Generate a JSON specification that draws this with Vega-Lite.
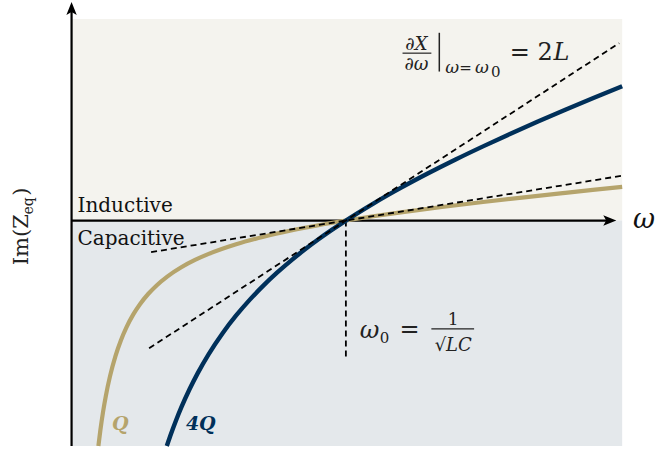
{
  "$schema": "https://vega.github.io/schema/vega-lite/v6.json",
  "width": 655,
  "height": 455,
  "autosize": {"type": "fit", "contains": "padding"},
  "padding": 0,
  "background": "#ffffff",
  "config": {"view": {"stroke": null}},
  "datasets": {
    "regions": [
      {"region": "Inductive", "w0": 0, "w1": 2.0072, "X0": 0, "X1": 9.0625},
      {"region": "Capacitive", "w0": 0, "w1": 2.0072, "X0": -10.134, "X1": 0}
    ],
    "axes": [
      {"w0": 0, "w1": 0, "X0": -10.134, "X1": 9.45},
      {"w0": 0, "w1": 1.955, "X0": 0, "X1": 0}
    ],
    "arrows": [
      {"dir": "up", "w": 0, "X": 9.531},
      {"dir": "right", "w": 1.962, "X": 0}
    ],
    "tangents": [
      {"series": "Q", "w": 0.2899, "X": -1.42},
      {"series": "Q", "w": 2.0036, "X": 2.0072},
      {"series": "4Q", "w": 0.2826, "X": -5.739},
      {"series": "4Q", "w": 1.9964, "X": 7.971}
    ],
    "resonance": [{"w": 1, "X0": 0, "X1": -6.25}],
    "bars": [
      {"w0": 1.2065, "w1": 1.3116, "X": 7.522},
      {"w0": 1.3116, "w1": 1.4674, "X": -4.866}
    ],
    "evalbar": [{"w": 1.3406, "X0": 8.4375, "X1": 6.696}],
    "curveQ": [
      {"w": 0.0978, "X": -10.127}, {"w": 0.105, "X": -9.419}, {"w": 0.115, "X": -8.581},
      {"w": 0.125, "X": -7.875}, {"w": 0.14, "X": -7.003}, {"w": 0.16, "X": -6.09},
      {"w": 0.18, "X": -5.376}, {"w": 0.2, "X": -4.8}, {"w": 0.225, "X": -4.219},
      {"w": 0.25, "X": -3.75}, {"w": 0.28, "X": -3.291}, {"w": 0.31, "X": -2.916},
      {"w": 0.35, "X": -2.507}, {"w": 0.4, "X": -2.1}, {"w": 0.45, "X": -1.772},
      {"w": 0.5, "X": -1.5}, {"w": 0.6, "X": -1.067}, {"w": 0.7, "X": -0.729},
      {"w": 0.8, "X": -0.45}, {"w": 0.9, "X": -0.211}, {"w": 1.0, "X": 0},
      {"w": 1.1, "X": 0.191}, {"w": 1.2, "X": 0.367}, {"w": 1.35, "X": 0.609},
      {"w": 1.5, "X": 0.833}, {"w": 1.65, "X": 1.044}, {"w": 1.8, "X": 1.244},
      {"w": 1.9, "X": 1.374}, {"w": 2.0072, "X": 1.509}
    ],
    "curve4Q": [
      {"w": 0.3472, "X": -10.132}, {"w": 0.36, "X": -9.671}, {"w": 0.38, "X": -9.006},
      {"w": 0.4, "X": -8.4}, {"w": 0.43, "X": -7.582}, {"w": 0.46, "X": -6.856},
      {"w": 0.5, "X": -6.0}, {"w": 0.55, "X": -5.073}, {"w": 0.6, "X": -4.267},
      {"w": 0.65, "X": -3.554}, {"w": 0.7, "X": -2.914}, {"w": 0.75, "X": -2.333},
      {"w": 0.8, "X": -1.8}, {"w": 0.85, "X": -1.306}, {"w": 0.9, "X": -0.844},
      {"w": 0.95, "X": -0.411}, {"w": 1.0, "X": 0}, {"w": 1.1, "X": 0.764},
      {"w": 1.2, "X": 1.467}, {"w": 1.3, "X": 2.123}, {"w": 1.4, "X": 2.743},
      {"w": 1.5, "X": 3.333}, {"w": 1.6, "X": 3.9}, {"w": 1.7, "X": 4.447},
      {"w": 1.8, "X": 4.978}, {"w": 1.9, "X": 5.495}, {"w": 2.0072, "X": 6.036}
    ],
    "regionLabels": [
      {"label": "Inductive", "w": 0.0217, "X": 0.402},
      {"label": "Capacitive", "w": 0.0217, "X": -1.116}
    ],
    "curveLabels": [
      {"label": "Q", "w": 0.1775, "X": -9.15},
      {"label": "4Q", "w": 0.4710, "X": -9.15}
    ],
    "ylabelMain": [
      {"label": "Im(Z", "w": -0.1594, "X": -2.009},
      {"label": ")", "w": -0.1594, "X": 1.116}
    ],
    "ylabelSub": [{"label": "eq", "w": -0.141, "X": 0.268}],
    "xlabel": [{"label": "ω", "w": 2.047, "X": -0.357}],
    "mathItalicLarge": [
      {"label": "ω", "w": 1.0507, "X": -5.268},
      {"label": "L", "w": 1.757, "X": 7.232}
    ],
    "mathUprightLarge": [
      {"label": "=", "w": 1.1957, "X": -5.223},
      {"label": "= 2", "w": 1.5978, "X": 7.232}
    ],
    "mathSubZero": [
      {"label": "0", "w": 1.1232, "X": -5.491},
      {"label": "0", "w": 1.529, "X": 6.473}
    ],
    "mathNumerator": [{"label": "1", "w": 1.3913, "X": -4.6875}],
    "mathFraction": [
      {"label": "∂X", "w": 1.2572, "X": 7.679},
      {"label": "∂ω", "w": 1.2572, "X": 6.786},
      {"label": "√LC", "w": 1.3913, "X": -5.848}
    ],
    "mathSub": [
      {"label": "ω", "w": 1.3623, "X": 6.652},
      {"label": "ω", "w": 1.471, "X": 6.652}
    ],
    "mathSubEquals": [{"label": "=", "w": 1.413, "X": 6.652}]
  },
  "encoding": {
    "x": {"field": "w", "type": "quantitative", "scale": {"domain": [-0.2609, 2.1123], "nice": false, "zero": false}, "axis": null},
    "y": {"field": "X", "type": "quantitative", "scale": {"domain": [-10.402, 9.911], "nice": false, "zero": false}, "axis": null}
  },
  "layer": [
    {
      "data": {"name": "regions"},
      "mark": {"type": "rect"},
      "encoding": {
        "x": {"field": "w0", "type": "quantitative"},
        "x2": {"field": "w1"},
        "y": {"field": "X0", "type": "quantitative"},
        "y2": {"field": "X1"},
        "fill": {"field": "region", "type": "nominal", "scale": {"domain": ["Inductive", "Capacitive"], "range": ["#f4f3ee", "#e4e8eb"]}, "legend": null}
      }
    },
    {
      "data": {"name": "axes"},
      "mark": {"type": "rule", "color": "#000000", "strokeWidth": 2.2},
      "encoding": {
        "x": {"field": "w0", "type": "quantitative"},
        "x2": {"field": "w1"},
        "y": {"field": "X0", "type": "quantitative"},
        "y2": {"field": "X1"}
      }
    },
    {
      "data": {"name": "arrows"},
      "transform": [{"filter": "datum.dir === 'up'"}],
      "mark": {"type": "point", "filled": true, "color": "#000000", "opacity": 1, "size": 169, "shape": "M0,-1L0.8,1L0,0.55L-0.8,1Z"}
    },
    {
      "data": {"name": "arrows"},
      "transform": [{"filter": "datum.dir === 'right'"}],
      "mark": {"type": "point", "filled": true, "color": "#000000", "opacity": 1, "size": 169, "shape": "M1,0L-1,0.8L-0.55,0L-1,-0.8Z"}
    },
    {
      "data": {"name": "resonance"},
      "mark": {"type": "rule", "color": "#000000", "strokeWidth": 1.8, "strokeDash": [6, 4]},
      "encoding": {
        "y": {"field": "X0", "type": "quantitative"},
        "y2": {"field": "X1"}
      }
    },
    {
      "data": {"name": "curveQ"},
      "mark": {"type": "line", "color": "#b5a46c", "strokeWidth": 4.2, "interpolate": "monotone"}
    },
    {
      "data": {"name": "curve4Q"},
      "mark": {"type": "line", "color": "#00305a", "strokeWidth": 4.4, "interpolate": "monotone"}
    },
    {
      "data": {"name": "tangents"},
      "mark": {"type": "line", "color": "#000000", "strokeWidth": 1.8, "strokeDash": [6, 4]},
      "encoding": {"detail": {"field": "series", "type": "nominal"}}
    },
    {
      "data": {"name": "regionLabels"},
      "mark": {"type": "text", "font": "DejaVu Serif", "fontSize": 20, "align": "left", "baseline": "alphabetic", "color": "#111111"},
      "encoding": {"text": {"field": "label"}}
    },
    {
      "data": {"name": "curveLabels"},
      "mark": {"type": "text", "font": "DejaVu Serif", "fontSize": 19, "fontStyle": "italic", "fontWeight": "bold", "align": "center", "baseline": "middle"},
      "encoding": {
        "text": {"field": "label"},
        "color": {"field": "label", "type": "nominal", "scale": {"domain": ["Q", "4Q"], "range": ["#b5a46c", "#00305a"]}, "legend": null}
      }
    },
    {
      "data": {"name": "ylabelMain"},
      "mark": {"type": "text", "font": "DejaVu Serif", "fontSize": 21, "angle": 270, "align": "left", "baseline": "alphabetic", "color": "#222222"},
      "encoding": {"text": {"field": "label"}}
    },
    {
      "data": {"name": "ylabelSub"},
      "mark": {"type": "text", "font": "DejaVu Serif", "fontSize": 14, "angle": 270, "align": "left", "baseline": "alphabetic", "color": "#222222"},
      "encoding": {"text": {"field": "label"}}
    },
    {
      "data": {"name": "xlabel"},
      "mark": {"type": "text", "font": "DejaVu Serif", "fontSize": 27, "fontStyle": "italic", "align": "left", "baseline": "alphabetic", "color": "#111111"},
      "encoding": {"text": {"field": "label"}}
    },
    {
      "data": {"name": "bars"},
      "mark": {"type": "rule", "color": "#222222", "strokeWidth": 1.2},
      "encoding": {
        "x": {"field": "w0", "type": "quantitative"},
        "x2": {"field": "w1"}
      }
    },
    {
      "data": {"name": "evalbar"},
      "mark": {"type": "rule", "color": "#222222", "strokeWidth": 1.5},
      "encoding": {
        "y": {"field": "X0", "type": "quantitative"},
        "y2": {"field": "X1"}
      }
    },
    {
      "data": {"name": "mathItalicLarge"},
      "mark": {"type": "text", "font": "DejaVu Serif", "fontSize": 24, "fontStyle": "italic", "align": "left", "baseline": "alphabetic", "color": "#222222"},
      "encoding": {"text": {"field": "label"}}
    },
    {
      "data": {"name": "mathUprightLarge"},
      "mark": {"type": "text", "font": "DejaVu Serif", "fontSize": 24, "align": "left", "baseline": "alphabetic", "color": "#222222"},
      "encoding": {"text": {"field": "label"}}
    },
    {
      "data": {"name": "mathSubZero"},
      "mark": {"type": "text", "font": "DejaVu Serif", "fontSize": 15, "align": "left", "baseline": "alphabetic", "color": "#222222"},
      "encoding": {"text": {"field": "label"}}
    },
    {
      "data": {"name": "mathNumerator"},
      "mark": {"type": "text", "font": "DejaVu Serif", "fontSize": 17, "align": "center", "baseline": "alphabetic", "color": "#222222"},
      "encoding": {"text": {"field": "label"}}
    },
    {
      "data": {"name": "mathFraction"},
      "mark": {"type": "text", "font": "DejaVu Serif", "fontSize": 18, "fontStyle": "italic", "align": "center", "baseline": "alphabetic", "color": "#222222"},
      "encoding": {"text": {"field": "label"}}
    },
    {
      "data": {"name": "mathSub"},
      "mark": {"type": "text", "font": "DejaVu Serif", "fontSize": 17, "fontStyle": "italic", "align": "left", "baseline": "alphabetic", "color": "#222222"},
      "encoding": {"text": {"field": "label"}}
    },
    {
      "data": {"name": "mathSubEquals"},
      "mark": {"type": "text", "font": "DejaVu Serif", "fontSize": 15, "align": "left", "baseline": "alphabetic", "color": "#222222"},
      "encoding": {"text": {"field": "label"}}
    }
  ]
}
